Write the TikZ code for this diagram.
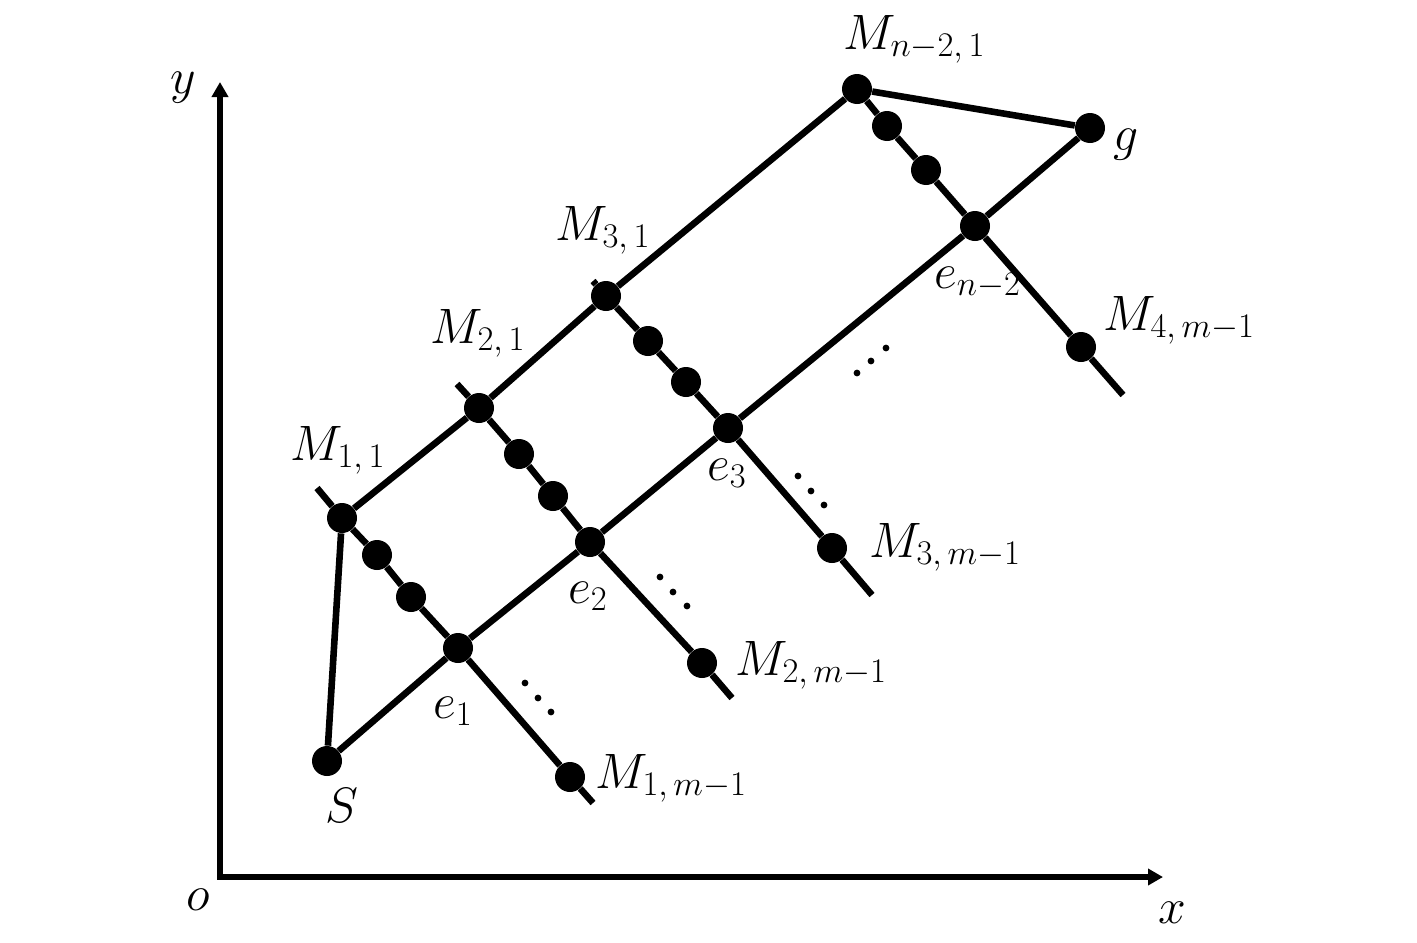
\documentclass[tikz,border=0pt]{standalone}
\usetikzlibrary{arrows.meta}
\DeclareMathSizes{28}{28}{17}{12}
\tikzset{
  ln/.style={line width=3.3pt},
  pt/.style={circle,fill=black,inner sep=0pt,minimum size=15pt},
  sd/.style={circle,fill=black,inner sep=0pt,minimum size=3.4pt},
  lab/.style={anchor=base west,inner sep=0pt,font=\fontsize{28}{28}\selectfont},
  axis/.style={line width=2.8pt,line join=miter,{Triangle[length=7.5pt,width=8pt]}-{Triangle[length=7.5pt,width=8pt]}},
}
\begin{document}
\begin{tikzpicture}[x=0.5pt,y=-0.5pt]
\useasboundingbox (0,0) rectangle (1417,942);
% axes
\coordinate (O) at (220,877);
\coordinate (Y) at (220,82);
\coordinate (X) at (1163,877);
\draw[axis] (Y) -- (O) -- (X);
\node[lab] (ly) at (170,93) {$y$};
\node[lab] (lo) at (186,910) {$o$};
\node[lab] (lx) at (1158,923) {$x$};
% main points
\node[pt] (S) at (327,761) {};
\node[pt] (M11) at (342,518) {};
\node[pt] (M21) at (479,408) {};
\node[pt] (M31) at (606,296) {};
\node[pt] (Mn) at (857,89) {};
\node[pt] (e1) at (458,648) {};
\node[pt] (e2) at (590,542) {};
\node[pt] (e3) at (728,428) {};
\node[pt] (en) at (975,226) {};
\node[pt] (g) at (1090,128) {};
\node[pt] (M1m) at (570,777) {};
\node[pt] (M2m) at (702,663) {};
\node[pt] (M3m) at (832,548) {};
\node[pt] (M4m) at (1081,347) {};
% intermediate points
\node[pt] (a1) at (377,555) {};
\node[pt] (a2) at (411,597) {};
\node[pt] (b1) at (519,454) {};
\node[pt] (b2) at (553,496) {};
\node[pt] (c1) at (648,341) {};
\node[pt] (c2) at (686,382) {};
\node[pt] (d1) at (887,126) {};
\node[pt] (d2) at (926,170) {};
% line ends
\coordinate (s1) at (317,488);
\coordinate (t1) at (593,803);
\coordinate (s2) at (457,384);
\coordinate (t2) at (732,698);
\coordinate (s3) at (593,281);
\coordinate (t3) at (872,595);
\coordinate (t4) at (1123,395);
% lines
\draw[ln] (S) -- (M11);
\draw[ln] (S) -- (e1) -- (e2) -- (e3) -- (en) -- (g);
\draw[ln] (M11) -- (M21) -- (M31) -- (Mn) -- (g);
\draw[ln] (s1) -- (M11) -- (a1) -- (a2) -- (e1) -- (M1m) -- (t1);
\draw[ln] (s2) -- (M21) -- (b1) -- (b2) -- (e2) -- (M2m) -- (t2);
\draw[ln] (s3) -- (M31) -- (c1) -- (c2) -- (e3) -- (M3m) -- (t3);
\draw[ln] (Mn) -- (d1) -- (d2) -- (en) -- (M4m) -- (t4);
% ellipsis dots
\foreach \n/\p in {p1/{525,683},p2/{538,698},p3/{551,712},
                   q1/{660,577},q2/{673,592},q3/{687,606},
                   r1/{798,476},r2/{811,491},r3/{824,505},
                   u1/{857,373},u2/{871,361},u3/{886,348}}
  \node[sd] (\n) at (\p) {};
% labels
\node[lab] (lS) at (325,822) {$S$};
\node[lab] (lg) at (1113,150) {$g$};
\node[lab] (lM11) at (290,460) {$M_{1,\,1}$};
\node[lab] (lM21) at (430,343) {$M_{2,\,1}$};
\node[lab] (lM31) at (555,240) {$M_{3,\,1}$};
\node[lab] (lMn) at (843,49) {$M_{n{-}2,\,1}$};
\node[lab] (le1) at (433,718) {$e_1$};
\node[lab] (le2) at (568,603) {$e_2$};
\node[lab] (le3) at (707,480) {$e_3$};
\node[lab] (len) at (934,288) {$e_{n{-}2}$};
\node[lab] (lM1m) at (595,788) {$M_{1,\,m{-}1}$};
\node[lab] (lM2m) at (735,675) {$M_{2,\,m{-}1}$};
\node[lab] (lM3m) at (869,557) {$M_{3,\,m{-}1}$};
\node[lab] (lM4m) at (1103,330) {$M_{4,\,m{-}1}$};
\end{tikzpicture}
\end{document}
